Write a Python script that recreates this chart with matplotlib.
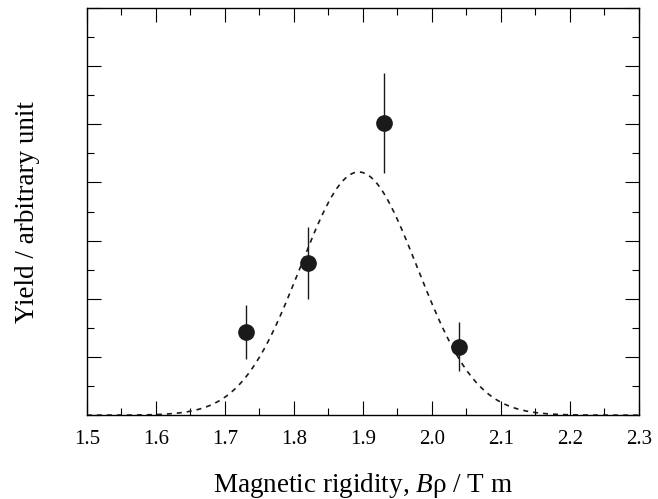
import numpy as np
import matplotlib
matplotlib.use("Agg")
import matplotlib.pyplot as plt
from matplotlib.ticker import MultipleLocator, NullFormatter

plt.rcParams['font.family'] = ['Liberation Serif', 'DejaVu Serif']
plt.rcParams['mathtext.fontset'] = 'custom'
plt.rcParams['mathtext.it'] = 'Liberation Serif:italic'
plt.rcParams['mathtext.rm'] = 'Liberation Serif'

# measured yields (arbitrary unit)
brho = [1.73, 1.82, 1.93, 2.04]
yield_val = [1.43, 2.62, 5.03, 1.18]
yield_err = [0.46, 0.62, 0.86, 0.42]

# gaussian fit parameters (dashed line)
fit_amp = 4.18
fit_center = 1.894
fit_sigma = 0.085

x = np.linspace(1.5, 2.3, 400)
fit = fit_amp * np.exp(-0.5 * ((x - fit_center) / fit_sigma) ** 2)

fig = plt.figure(figsize=(6.58, 4.99), dpi=100)
ax = fig.add_axes([0.132, 0.168, 0.839, 0.816])

ax.errorbar(brho, yield_val, yerr=yield_err, fmt="o", color="#1a1a1a",
            ms=11, elinewidth=1.0, capsize=0, zorder=2)
ax.plot(x, fit, color="#1a1a1a", lw=1.2, ls=(0, (3, 3)), zorder=3)

ax.set_xlim(1.5, 2.3)
ax.set_ylim(0, 7)
ax.xaxis.set_major_locator(MultipleLocator(0.1))
ax.xaxis.set_minor_locator(MultipleLocator(0.05))
ax.yaxis.set_major_locator(MultipleLocator(1))
ax.yaxis.set_minor_locator(MultipleLocator(0.5))
ax.yaxis.set_major_formatter(NullFormatter())
ax.tick_params(which="both", direction="in", top=True, right=True, width=0.8)
ax.tick_params(which="major", length=10, labelsize=15, pad=11)
ax.tick_params(which="minor", length=5)
for s in ax.spines.values():
    s.set_linewidth(1.0)

ax.set_xlabel(r"Magnetic rigidity, $B$ρ / T m", fontsize=19.5)
ax.set_ylabel("Yield / arbitrary unit", fontsize=19.5)
ax.xaxis.set_label_coords(0.5, -0.138)
ax.yaxis.set_label_coords(-0.085, 0.5)

fig.savefig("out.png", dpi=100)
